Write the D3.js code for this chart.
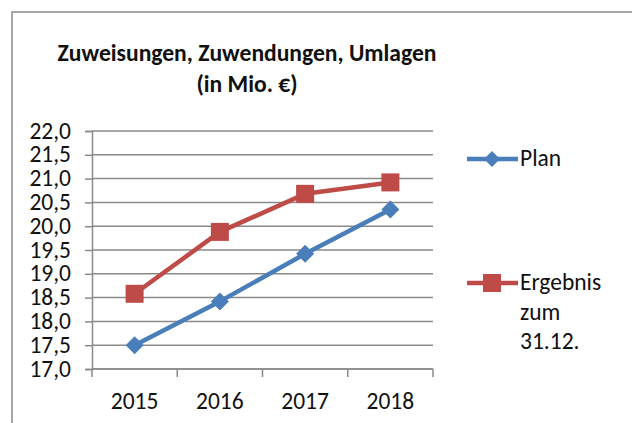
<!DOCTYPE html>
<html><head><meta charset="utf-8">
<script src="https://cdn.jsdelivr.net/npm/d3@7"></script>
<style>body{margin:0;background:#fff}svg{display:block}</style>
</head><body>
<script>
const years = ["2015","2016","2017","2018"];
const plan = [17.5, 18.42, 19.42, 20.35];
const ergebnis = [18.58, 19.88, 20.68, 20.92];
const yTicks = [17,17.5,18,18.5,19,19.5,20,20.5,21,21.5,22];
const seriesNames = ["Plan", "Ergebnis zum 31.12."];
const colors = ["#4a7ebb", "#be4b48"];

const W = 632, H = 423;
const svg = d3.select("body").append("svg").attr("width", W).attr("height", H);
const font = "Carlito, Calibri, Lato, sans-serif";
const fs = 23.5;

// chart border
svg.append("rect").attr("x", 12).attr("y", 12).attr("width", 700).attr("height", 500)
  .attr("fill", "none").attr("stroke", "#8a8a8a").attr("stroke-width", 1.5);

// title
const title = svg.append("text").attr("text-anchor", "middle").attr("font-family", font)
  .attr("font-weight", "bold").attr("font-size", 23.6).attr("fill", "#111");
title.append("tspan").attr("x", 247).attr("y", 61).text("Zuweisungen, Zuwendungen, Umlagen");
title.append("tspan").attr("x", 247).attr("y", 92).text("(in Mio. €)");

const x = d3.scaleBand().domain(years).range([92, 433]);
const y = d3.scaleLinear().domain([17, 22]).range([369, 131]);

// gridlines
svg.append("g").selectAll("line").data(yTicks).join("line")
  .attr("x1", 92).attr("x2", 433).attr("y1", d => y(d)).attr("y2", d => y(d))
  .attr("stroke", "#8a8a8a").attr("stroke-width", 1.5);

// y axis
const yAxis = svg.append("g").attr("transform", "translate(92,0)")
  .call(d3.axisLeft(y).tickValues(yTicks).tickSize(7).tickPadding(14)
    .tickFormat(d => d3.format(".1f")(d).replace(".", ",")));
yAxis.attr("font-family", font).attr("font-size", fs);
yAxis.select(".domain").attr("stroke", "#8a8a8a").attr("stroke-width", 1.5);
yAxis.selectAll(".tick line").attr("stroke", "#8a8a8a").attr("stroke-width", 1.5);
yAxis.selectAll("text").attr("fill", "#111").attr("dy", "0.3em");

// x axis
const xTickPos = years.map(d => x(d)).concat([x.range()[1]]);
const xg = svg.append("g").attr("font-family", font).attr("font-size", fs);
xg.append("line").attr("x1", 92).attr("x2", 433).attr("y1", 369).attr("y2", 369)
  .attr("stroke", "#8a8a8a").attr("stroke-width", 1.5);
xg.selectAll("line.t").data(xTickPos).join("line").attr("class", "t")
  .attr("x1", d => d).attr("x2", d => d).attr("y1", 369).attr("y2", 377)
  .attr("stroke", "#8a8a8a").attr("stroke-width", 1.5);
xg.selectAll("text").data(years).join("text")
  .attr("x", d => x(d) + x.bandwidth() / 2).attr("y", 409)
  .attr("text-anchor", "middle").attr("fill", "#111").text(d => d);

const line = d3.line().x((d, i) => x(years[i]) + x.bandwidth() / 2).y(d => y(d));
const all = [plan, ergebnis];
all.forEach((s, k) => {
  svg.append("path").datum(s).attr("d", line).attr("fill", "none")
    .attr("stroke", colors[k]).attr("stroke-width", 4.5).attr("stroke-linejoin", "round");
  const g = svg.append("g");
  s.forEach((v, i) => {
    const cx = x(years[i]) + x.bandwidth() / 2, cy = y(v);
    if (k === 0) {
      g.append("path").attr("d", "M0,-9L9,0L0,9L-9,0Z")
        .attr("transform", `translate(${cx},${cy})`).attr("fill", colors[k]);
    } else {
      g.append("rect").attr("x", cx - 9).attr("y", cy - 9).attr("width", 18).attr("height", 18)
        .attr("fill", colors[k]);
    }
  });
});

// legend
const lg = svg.append("g").attr("font-family", font).attr("font-size", fs).attr("fill", "#111");
lg.append("line").attr("x1", 467).attr("x2", 518).attr("y1", 159).attr("y2", 159)
  .attr("stroke", colors[0]).attr("stroke-width", 4.5);
lg.append("path").attr("d", "M0,-8L8,0L0,8L-8,0Z")
  .attr("transform", "translate(492,159)").attr("fill", colors[0]);
lg.append("text").attr("x", 520).attr("y", 166).text(seriesNames[0]);

lg.append("line").attr("x1", 467).attr("x2", 518).attr("y1", 283).attr("y2", 283)
  .attr("stroke", colors[1]).attr("stroke-width", 4.5);
lg.append("rect").attr("x", 483).attr("y", 274).attr("width", 18).attr("height", 18).attr("fill", colors[1]);
const lt = lg.append("text");
["Ergebnis", "zum", "31.12."].forEach((t, i) => {
  lt.append("tspan").attr("x", 520).attr("y", 290 + i * 29.5).text(t);
});
</script>
</body></html>
